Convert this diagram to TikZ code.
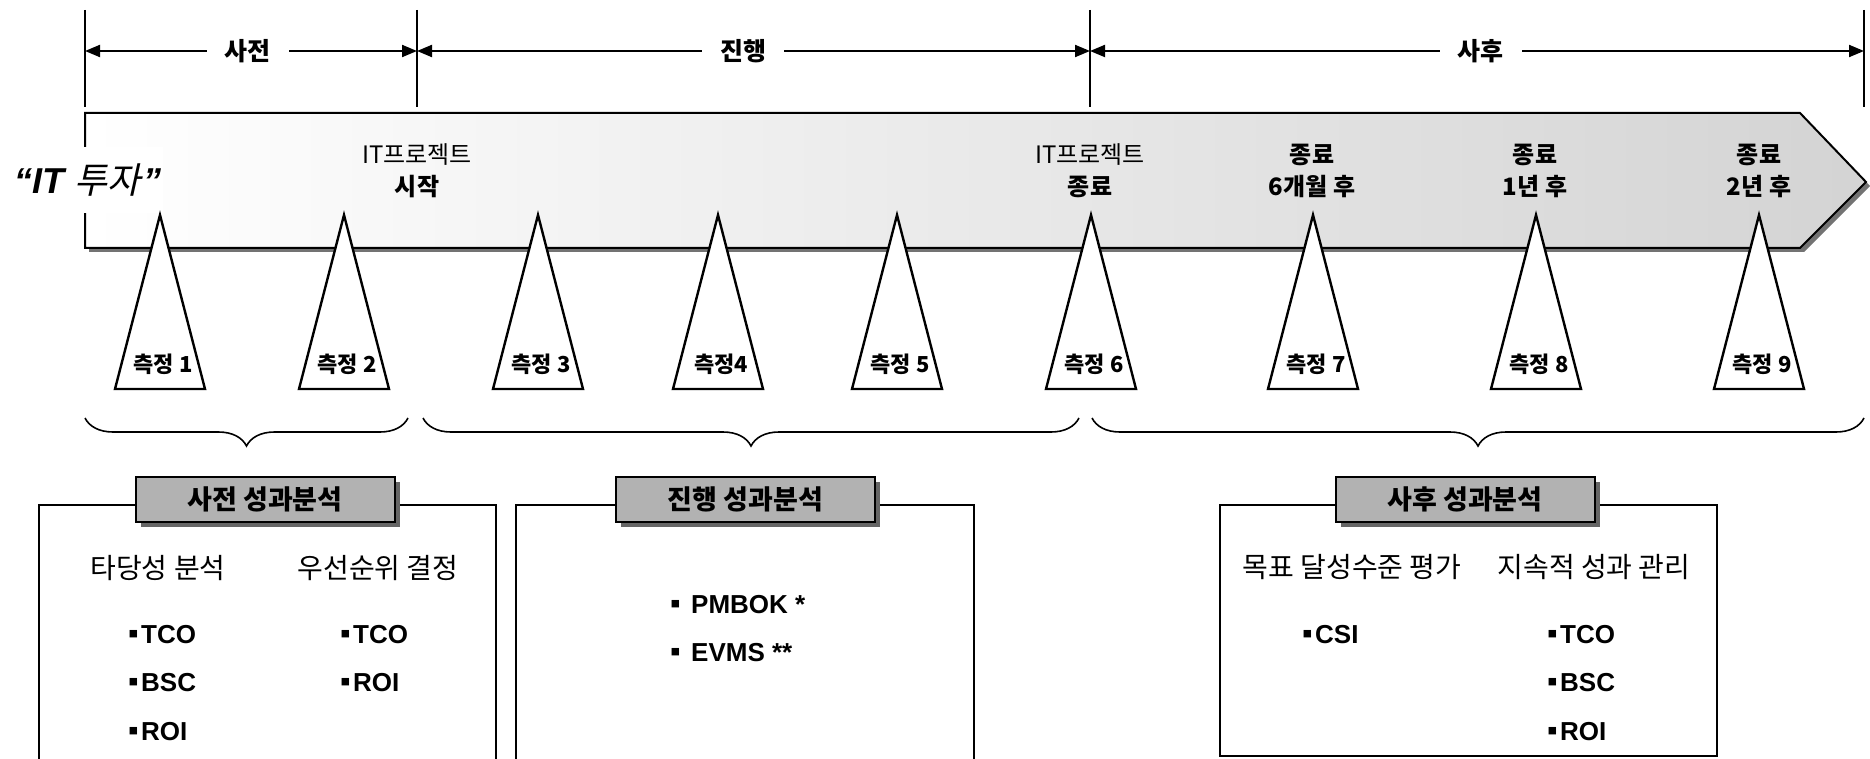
\documentclass[tikz,border=0pt]{standalone}
\usepackage{fontspec}
\setmainfont{Liberation Sans}
\newfontfamily\kr{Noto Sans CJK KR}
\newfontfamily\krsl{Noto Sans CJK KR}[FakeSlant=0.22]
\usetikzlibrary{arrows.meta,decorations.pathreplacing,shadows}
\newcommand{\fsz}[1]{\fontsize{#1}{#1}\selectfont}
\newcommand{\bul}{\makebox[10pt][l]{\hspace{-3pt}\fontsize{30}{30}\selectfont ▪}}
\begin{document}
\begin{tikzpicture}[x=1pt,y=-1pt,
  vline/.style={line width=1.6pt},
  dim/.style={line width=2pt,{Triangle[length=15pt,width=12pt]}-{Triangle[length=15pt,width=12pt]}},
  hdr/.style={fill=white,inner xsep=18pt,inner ysep=2pt,font=\kr\bfseries\fsz{25}},
  marker/.style={draw=black,fill=white,line width=2.4pt,line join=miter},
  mlabel/.style={font=\kr\bfseries\fsz{22},inner sep=0pt},
  stage/.style={font=\kr\fontsize{24}{32}\selectfont,align=center,inner sep=0pt},
  stageb/.style={stage,font=\kr\bfseries\fontsize{24}{32}\selectfont},
  grp/.style={decorate,decoration={brace,mirror,amplitude=28pt},line width=1.6pt},
  panel/.style={draw=black,line width=2pt},
  tab/.style={draw=black,fill=black!30,line width=2pt,minimum width=259pt,minimum height=45pt,inner sep=0pt,font=\kr\bfseries\fsz{27},
    drop shadow={shadow xshift=5pt,shadow yshift=-5pt,opacity=1,fill=black!60}},
  sub/.style={font=\kr\fsz{28},inner sep=0pt},
  item/.style={font=\bfseries\fsz{26},anchor=west,inner sep=0pt},
]
\useasboundingbox (0,0) rectangle (1870,759);

% header dimension lines
\coordinate (v0t) at (85,10);   \coordinate (v0b) at (85,107);
\coordinate (v1t) at (417,10);  \coordinate (v1b) at (417,107);
\coordinate (v2t) at (1090,10); \coordinate (v2b) at (1090,107);
\coordinate (v3t) at (1864,10); \coordinate (v3b) at (1864,107);
\draw[vline] (v0t) -- (v0b);
\draw[vline] (v1t) -- (v1b);
\draw[vline] (v2t) -- (v2b);
\draw[vline] (v3t) -- (v3b);
\coordinate (a0) at (85,51); \coordinate (a1) at (417,51);
\coordinate (a2) at (1090,51); \coordinate (a3) at (1864,51);
\draw[dim] (a0) -- node[hdr,pos=0.49] (h1) {사전} (a1);
\draw[dim] (a1) -- node[hdr,pos=0.485] (h2) {진행} (a2);
\draw[dim] (a2) -- node[hdr,pos=0.505] (h3) {사후} (a3);

% big arrow
\fill[black!55] (89,117) -- (1804,117) -- (1870,186) -- (1804,252) -- (89,252) -- cycle;
\shadedraw[left color=white,right color=black!17,draw=black,line width=2pt,line join=miter]
  (85,113) -- (1800,113) -- (1866,182) -- (1800,248) -- (85,248) -- cycle;
\node[fill=white,inner xsep=2pt,minimum height=66pt,font=\bfseries\itshape\fsz{36}] (it) at (88,180) {“IT {\krsl\mdseries 투자}\hspace{2pt}”};

\node[stage] (s1) at (417,171) {IT프로젝트\\\bfseries 시작};
\node[stage] (s2) at (1090,171) {IT프로젝트\\\bfseries 종료};
\node[stageb] (s3) at (1312,171) {종료\\6개월 후};
\node[stageb] (s4) at (1535,171) {종료\\1년 후};
\node[stageb] (s5) at (1759,171) {종료\\2년 후};

% measurement markers
\foreach \n/\x/\t in {1/160/{측정 1},2/344/{측정 2},3/538/{측정 3},4/718/{측정4},5/897/{측정 5},6/1091/{측정 6},7/1313/{측정 7},8/1536/{측정 8},9/1759/{측정 9}}{
  \draw[marker] (\x,215) -- (\x+45,389) -- (\x-45,389) -- cycle;
  \node[mlabel] (m\n) at (\x+3,364) {\t};
}

% braces
\coordinate (b1s) at (85,418);   \coordinate (b1e) at (408,418);
\coordinate (b2s) at (423,418);  \coordinate (b2e) at (1079,418);
\coordinate (b3s) at (1092,418); \coordinate (b3e) at (1864,418);
\draw[grp] (b1s) -- (b1e);
\draw[grp] (b2s) -- (b2e);
\draw[grp] (b3s) -- (b3e);

% panels
\draw[panel] (39,775) -- (39,505) -- (496,505) -- (496,775);
\draw[panel] (516,775) -- (516,505) -- (974,505) -- (974,775);
\draw[panel] (1220,505) rectangle (1717,756);

\node[tab] (t1) at (265,499.5) {사전 성과분석};
\node[tab] (t2) at (745.5,499.5) {진행 성과분석};
\node[tab] (t3) at (1465,499.5) {사후 성과분석};

% panel 1
\node[sub] (p1a) at (158,568) {타당성 분석};
\node[sub] (p1b) at (378,568) {우선순위 결정};
\node[item] (p1i1) at (131,635) {\bul TCO};
\node[item] (p1i2) at (131,683) {\bul BSC};
\node[item] (p1i3) at (131,732) {\bul ROI};
\node[item] (p1j1) at (343,635) {\bul TCO};
\node[item] (p1j2) at (343,683) {\bul ROI};

% panel 2
\node[item] (p2i1) at (673,605) {\bul\hspace{8pt}PMBOK *};
\node[item] (p2i2) at (673,653) {\bul\hspace{8pt}EVMS **};

% panel 3
\node[sub] (p3a) at (1352,567) {목표 달성수준 평가};
\node[sub] (p3b) at (1594,567) {지속적 성과 관리};
\node[item] (p3i1) at (1305,635) {\bul CSI};
\node[item] (p3j1) at (1550,635) {\bul TCO};
\node[item] (p3j2) at (1550,683) {\bul BSC};
\node[item] (p3j3) at (1550,732) {\bul ROI};
\end{tikzpicture}
\end{document}
